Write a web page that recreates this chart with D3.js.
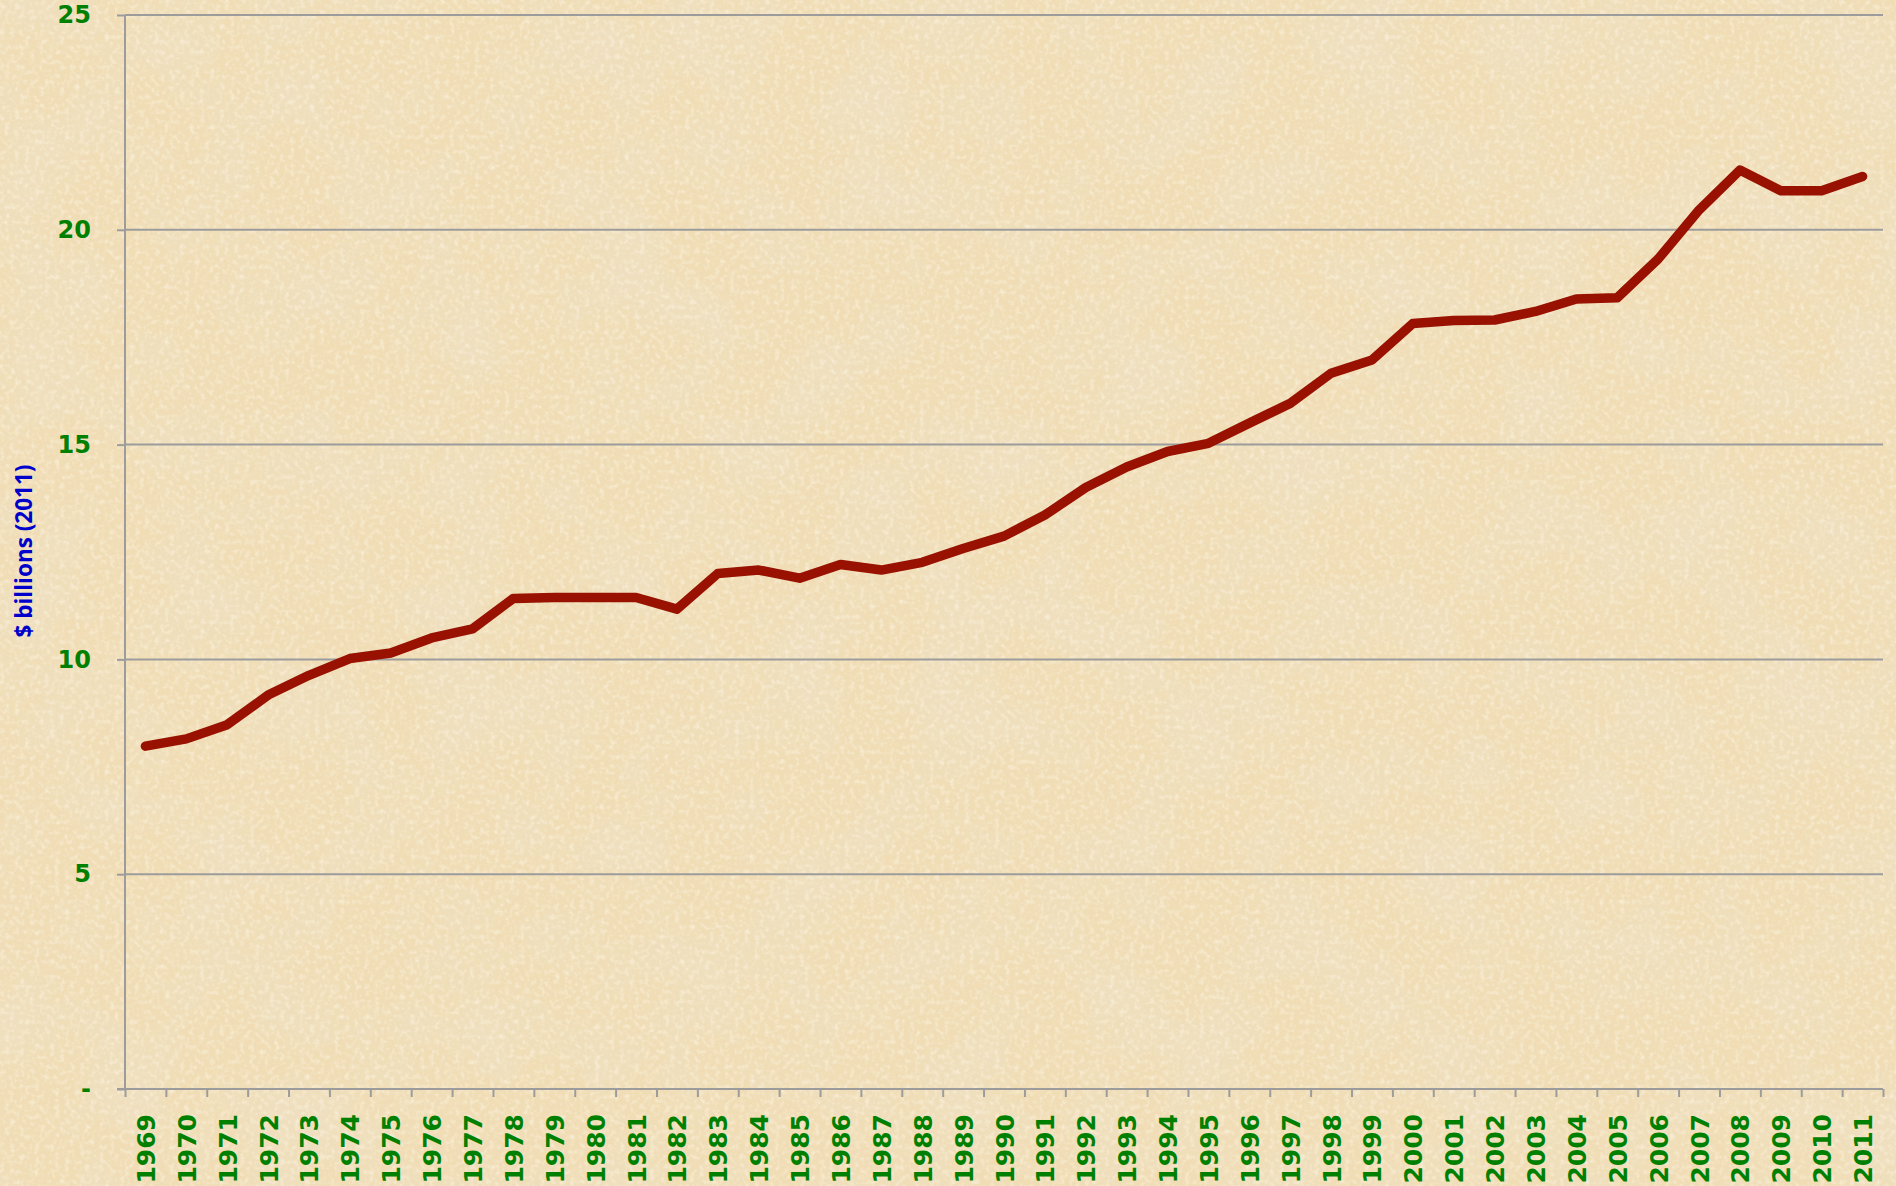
<!DOCTYPE html>
<html>
<head>
<meta charset="utf-8">
<script src="https://cdn.jsdelivr.net/npm/d3@7"></script>
<style>
  html, body { margin: 0; padding: 0; background: #f0dfb8; overflow: hidden; }
  svg { display: block; }
</style>
</head>
<body>
<script>
const width = 1896;
const height = 1186;
const plotLeft = 125;
const plotRight = 1883;
const plotTop = 15;
const plotBottom = 1089;

const years = [
  1969, 1970, 1971, 1972, 1973, 1974, 1975, 1976, 1977, 1978, 1979,
  1980, 1981, 1982, 1983, 1984, 1985, 1986, 1987, 1988, 1989, 1990,
  1991, 1992, 1993, 1994, 1995, 1996, 1997, 1998, 1999, 2000, 2001,
  2002, 2003, 2004, 2005, 2006, 2007, 2008, 2009, 2010, 2011,
];

// $ billions (2011)
const values = [
  7.98, 8.15, 8.48, 9.17, 9.63, 10.02, 10.15, 10.5, 10.71, 11.42, 11.44,
  11.44, 11.44, 11.17, 12.0, 12.08, 11.89, 12.21, 12.08, 12.26, 12.58, 12.87,
  13.36, 14.0, 14.48, 14.84, 15.03, 15.5, 15.96, 16.66, 16.97, 17.82, 17.89,
  17.9, 18.1, 18.39, 18.42, 19.32, 20.46, 21.39, 20.91, 20.91, 21.24,
];

const yTicks = [0, 5, 10, 15, 20, 25];
const yTitle = "$ billions (2011)";

const dataset = years.map((y, i) => ({ year: y, value: values[i] }));

const canvas = d3
  .select("body")
  .append("svg")
  .attr("width", width)
  .attr("height", height);

// parchment texture
const defs = canvas.append("defs");
const paper = defs
  .append("filter")
  .attr("id", "paper")
  .attr("x", 0)
  .attr("y", 0)
  .attr("width", "100%")
  .attr("height", "100%");
paper
  .append("feTurbulence")
  .attr("type", "fractalNoise")
  .attr("baseFrequency", "0.012")
  .attr("numOctaves", 5)
  .attr("seed", 7);
paper
  .append("feColorMatrix")
  .attr("type", "matrix")
  .attr("values", "0 0 0 0 0.86  0 0 0 0 0.74  0 0 0 0 0.52  2.6 0 0 0 -1.05");

const grain = defs
  .append("filter")
  .attr("id", "grain")
  .attr("x", 0)
  .attr("y", 0)
  .attr("width", "100%")
  .attr("height", "100%");
grain
  .append("feTurbulence")
  .attr("type", "fractalNoise")
  .attr("baseFrequency", "0.2")
  .attr("numOctaves", 2)
  .attr("seed", 3);
grain
  .append("feColorMatrix")
  .attr("type", "matrix")
  .attr("values", "0 0 0 0 1  0 0 0 0 0.95  0 0 0 0 0.84  1.2 0 0 0 -0.55");

canvas.append("rect").attr("width", width).attr("height", height).style("fill", "#f0ddb5");
canvas.append("rect").attr("width", width).attr("height", height).attr("filter", "url(#paper)");
canvas.append("rect").attr("width", width).attr("height", height).attr("filter", "url(#grain)");

// scales
const xScale = d3.scaleBand().domain(years).range([plotLeft, plotRight]).padding(0);
const xEdges = d3.scaleLinear().domain([0, years.length]).range([plotLeft, plotRight]);
const yScale = d3.scaleLinear().domain([0, 25]).range([plotBottom, plotTop]);

// gridlines
canvas
  .append("g")
  .selectAll("line")
  .data(yTicks.filter((d) => d > 0))
  .enter()
  .append("line")
  .attr("x1", plotLeft)
  .attr("x2", plotRight)
  .attr("y1", (d) => yScale(d))
  .attr("y2", (d) => yScale(d))
  .style("stroke", "#9c9c9c")
  .style("stroke-width", 2);

// y axis
const yAxis = d3
  .axisLeft(yScale)
  .tickValues(yTicks)
  .tickSize(8)
  .tickPadding(26)
  .tickFormat((d) => (d === 0 ? "-" : d));

const yg = canvas
  .append("g")
  .attr("transform", "translate(" + plotLeft + ",0)")
  .call(yAxis);
yg.select(".domain").remove();
yg.append("line")
  .attr("y1", plotTop)
  .attr("y2", plotBottom)
  .style("stroke", "#9c9c9c")
  .style("stroke-width", 2);
yg.selectAll(".tick line").style("stroke", "#9c9c9c").style("stroke-width", 2);
yg.selectAll(".tick text")
  .style("fill", "#008000")
  .style("font-family", "'DejaVu Sans', Verdana, sans-serif")
  .style("font-weight", "bold")
  .style("font-size", "24px");

// x axis: tick marks at category edges
const xTickAxis = d3
  .axisBottom(xEdges)
  .tickValues(d3.range(years.length + 1))
  .tickSize(8)
  .tickSizeOuter(0)
  .tickFormat("");

const xg = canvas
  .append("g")
  .attr("transform", "translate(0," + plotBottom + ")")
  .call(xTickAxis);
xg.select(".domain").remove();
xg.append("line")
  .attr("x1", plotLeft - 8)
  .attr("x2", plotRight)
  .style("stroke", "#9c9c9c")
  .style("stroke-width", 2);
xg.selectAll(".tick line").style("stroke", "#9c9c9c").style("stroke-width", 2);

// x labels
const xAxis = d3.axisBottom(xScale).tickSize(0).tickPadding(0);
const xl = canvas
  .append("g")
  .attr("transform", "translate(0," + plotBottom + ")")
  .call(xAxis);
xl.select(".domain").remove();
xl.selectAll(".tick text")
  .attr("transform", "rotate(-90)")
  .attr("x", -25)
  .attr("y", 0)
  .attr("dy", "0.38em")
  .style("text-anchor", "end")
  .style("fill", "#008000")
  .style("font-family", "'DejaVu Sans', Verdana, sans-serif")
  .style("font-weight", "bold")
  .style("font-size", "25px");

// y title
canvas
  .append("text")
  .attr("transform", "translate(32,551) rotate(-90)")
  .attr("text-anchor", "middle")
  .attr("textLength", 173)
  .attr("lengthAdjust", "spacingAndGlyphs")
  .style("fill", "#0000cc")
  .style("font-family", "'Open Sans', sans-serif")
  .style("font-weight", "bold")
  .style("font-size", "24px")
  .text(yTitle);

// series line
const line = d3
  .line()
  .x((d) => xScale(d.year) + xScale.bandwidth() / 2)
  .y((d) => yScale(d.value));

canvas
  .append("path")
  .datum(dataset)
  .attr("d", line)
  .style("fill", "none")
  .style("stroke", "#991100")
  .style("stroke-width", 9.5)
  .style("stroke-linecap", "round")
  .style("stroke-linejoin", "round");
</script>
</body>
</html>
